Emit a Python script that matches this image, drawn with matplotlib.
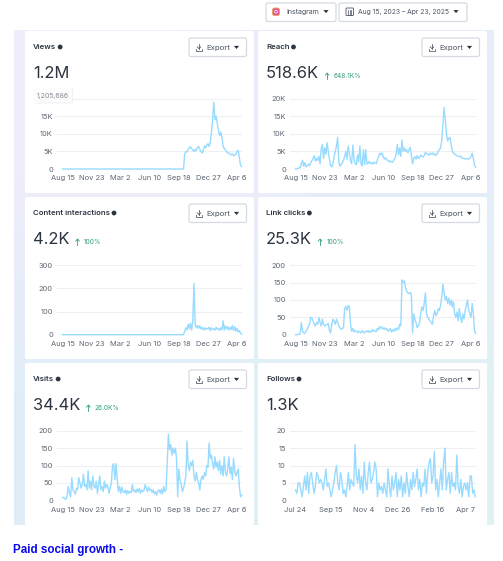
"""Instagram insights dashboard screenshot: six small daily line charts."""

import matplotlib
matplotlib.use("Agg")
import matplotlib.pyplot as plt
import matplotlib.patches as patches
import numpy as np

W, H = 503, 561
INK = "#2b3440"
TICK = "#5d6673"
LINE = "#98dbff"
GRID = "#edeff3"
GREEN = "#2f9e78"
EDGE = "#d5d9e2"

plt.rcParams["font.family"] = ["Inter", "DejaVu Sans"]

# values, one sample every 4 days (follows: every 2 days)
views = [0] * 105 + [
    4200, 5000, 4800, 5600, 6000, 6400, 5800, 5400, 5000, 5600,
    5200, 6200, 6400, 5600, 5000, 4500, 5400, 6600, 6000, 6800,
    7200, 6400, 7600, 10500, 14000, 19000, 14000, 15000, 13000, 11000,
    9500, 10500, 9000, 6500, 5800, 5500, 5000, 4500, 4600, 4200,
    4000, 4300, 3800, 3900, 4200, 5000, 5300, 3200, 1000, 700,
]
reach = [
    0, 0, 100, 400, 300, 1500, 2500, 800, 1800, 600,
    1000, 1400, 900, 1800, 2400, 3000, 3800, 2200, 3000, 2400,
    3600, 1500, 5800, 7000, 3000, 6000, 4200, 7500, 5000, 2800,
    1000, 600, 1500, 3500, 5000, 6500, 9000, 2000, 800, 1200,
    1800, 2500, 3500, 5000, 2800, 6500, 4500, 2500, 1500, 6800,
    3000, 1500, 1200, 4000, 2000, 6500, 1500, 900, 5500, 1200,
    5500, 1500, 1600, 2200, 1500, 1800, 1400, 2000, 1700, 1500,
    2600, 3500, 4500, 4000, 4600, 3500, 2800, 3200, 2600, 2500,
    2000, 2300, 2100, 1900, 2500, 3000, 4200, 7000, 4000, 6000,
    3600, 8300, 5000, 6000, 5000, 5500, 4600, 5500, 6200, 4000,
    1500, 3000, 3500, 2800, 3800, 3000, 3400, 4000, 3600, 3400,
    3800, 4800, 4400, 4200, 3900, 4500, 4200, 4600, 4000, 4300,
    3900, 4200, 5000, 5500, 6000, 8000, 13000, 17500, 14000, 10000,
    8000, 8800, 9000, 7000, 5000, 4500, 4200, 4000, 3800, 3600,
    3500, 3700, 3200, 3000, 3100, 2800, 2900, 3000, 2800, 3100,
    3500, 4500, 3000, 1000, 500,
]
interactions = [0] * 105 + [
    15, 30, 20, 45, 25, 50, 20, 60, 222, 45,
    30, 40, 28, 38, 25, 32, 20, 30, 22, 28,
    25, 32, 18, 30, 22, 26, 20, 32, 24, 28,
    18, 30, 22, 60, 20, 38, 25, 35, 20, 32,
    22, 40, 18, 35, 15, 28, 12, 18, 5, 3,
]
link_clicks = [
    0, 0, 1, 1, 3, 35, 10, 5, 4, 10,
    15, 25, 30, 50, 48, 40, 30, 25, 35, 30,
    50, 35, 25, 45, 30, 25, 28, 30, 32, 12,
    5, 30, 45, 38, 30, 45, 35, 25, 20, 15,
    18, 20, 75, 82, 70, 84, 80, 30, 10, 18,
    8, 12, 10, 6, 10, 8, 5, 12, 7, 5,
    10, 8, 12, 6, 10, 8, 15, 10, 12, 9,
    18, 14, 24, 18, 22, 16, 20, 14, 18, 10,
    12, 18, 8, 14, 10, 18, 12, 20, 15, 30,
    25, 158, 150, 155, 135, 125, 120, 118, 122, 115,
    5, 60, 45, 35, 20, 25, 35, 60, 80, 70,
    90, 120, 60, 50, 45, 40, 35, 30, 55, 70,
    55, 60, 75, 70, 85, 110, 145, 120, 100, 110,
    90, 105, 85, 100, 80, 95, 60, 50, 65, 40,
    75, 50, 35, 60, 45, 70, 85, 100, 70, 60,
    50, 90, 60, 10, 5,
]
visits = [
    8, 8, 5, 3, 15, 40, 20, 10, 65, 30,
    25, 18, 35, 30, 65, 50, 35, 45, 75, 40,
    45, 30, 85, 35, 55, 30, 70, 40, 35, 55,
    20, 45, 70, 30, 40, 25, 55, 35, 45, 40,
    20, 35, 50, 100, 105, 60, 105, 60, 25, 40,
    20, 38, 25, 22, 30, 18, 28, 20, 25, 22,
    45, 25, 30, 22, 32, 24, 35, 20, 30, 25,
    28, 45, 35, 25, 38, 28, 32, 22, 30, 18,
    25, 15, 28, 30, 20, 32, 18, 40, 25, 30,
    110, 190, 145, 160, 130, 150, 135, 150, 120, 10,
    90, 60, 45, 25, 35, 50, 70, 170, 100, 85,
    110, 100, 115, 70, 55, 80, 60, 50, 30, 60,
    70, 60, 80, 70, 100, 95, 165, 120, 130, 105,
    90, 125, 95, 110, 85, 115, 75, 100, 70, 125,
    80, 70, 90, 125, 75, 95, 60, 120, 85, 70,
    80, 90, 40, 10, 15,
]
follows = [
    3, 2, 5, 5, 3, 1, 4, 7, 3, 8,
    2, 7, 8, 5, 2, 4, 8, 7, 5, 6,
    5, 3, 6, 9, 4, 5, 3, 1, 3, 5,
    8, 10, 5, 3, 8, 6, 2, 3, 1, 4,
    8, 3, 6, 5, 4, 16, 7, 5, 9, 3,
    7, 2, 11, 5, 3, 8, 11, 5, 6, 8,
    11, 9, 1, 5, 3, 4, 2, 5, 3, 1,
    9, 4, 1, 7, 3, 5, 8, 1, 6, 3,
    7, 1, 5, 2, 8, 4, 1, 6, 3, 8,
    4, 6, 9, 3, 6, 1, 5, 4, 9, 2,
    8, 11, 12, 5, 7, 14, 3, 6, 1, 5,
    9, 3, 11, 15, 3, 6, 8, 2, 8, 4,
    5, 3, 13, 4, 2, 6, 1, 4, 5, 3,
    5, 1, 7, 7, 2, 3, 1,
]

long_ticks = [0, 100, 200, 300, 400, 500, 600]
long_labels = ["Aug 15", "Nov 23", "Mar 2", "Jun 10", "Sep 18", "Dec 27", "Apr 6"]
follow_ticks = [0, 53, 103, 155, 207, 257]
follow_labels = ["Jul 24", "Sep 15", "Nov 4", "Dec 26", "Feb 16", "Apr 7"]

fig = plt.figure(figsize=(W / 100, H / 100), dpi=100, facecolor="white")

# overlay in pixel coordinates, y going down like the screenshot
bg = fig.add_axes([0, 0, 1, 1])
bg.set_xlim(0, W)
bg.set_ylim(H, 0)
bg.axis("off")


def box(x0, y0, x1, y1, face="white", edge="none", lw=0.0, r=1.5, z=2):
    bg.add_patch(
        patches.FancyBboxPatch(
            (x0, y0), x1 - x0, y1 - y0,
            boxstyle=f"round,pad=0,rounding_size={r}",
            facecolor=face, edgecolor=edge, linewidth=lw, zorder=z,
        )
    )


def caret(x, y, s=3.0, z=5):
    bg.add_patch(
        patches.Polygon(
            [(x - s, y - s * 0.55), (x + s, y - s * 0.55), (x, y + s * 0.65)],
            closed=True, facecolor="#2b3440", edgecolor="none", zorder=z,
        )
    )


def right_edge(t):
    fig.canvas.draw()
    return bg.transData.inverted().transform(t.get_window_extent().get_points())[1, 0]


def export_button(x0, y0):
    box(x0, y0, x0 + 57.5, y0 + 18.5, edge=EDGE, lw=0.9, r=2, z=4)
    ix, iy = x0 + 10, y0 + 9.5
    ico = "#4a5360"
    bg.plot([ix - 3, ix - 3, ix + 3, ix + 3], [iy + 1, iy + 3, iy + 3, iy + 1], color=ico, lw=0.55, zorder=5)
    bg.plot([ix, ix], [iy - 3.5, iy + 1], color=ico, lw=0.55, zorder=5)
    bg.plot([ix - 1.8, ix, ix + 1.8], [iy - 0.7, iy + 1.2, iy - 0.7], color=ico, lw=0.55, zorder=5)
    bg.text(x0 + 29, y0 + 9.5, "Export", fontsize=5.6, color="#4a5360", ha="center", va="center", zorder=5)
    caret(x0 + 47.5, y0 + 9.3, s=2.6)


def card(x0, y0, title, number, delta):
    box(x0, y0, x0 + 229, y0 + 162, z=2)
    tt = bg.text(x0 + 8, y0 + 16, title, fontsize=5.6, fontweight="semibold", color=INK, ha="left", va="center", zorder=5)
    bg.add_patch(patches.Circle((right_edge(tt) + 4, y0 + 16), radius=2.4, facecolor="#2b3440", edgecolor="none", zorder=5))
    t = bg.text(x0 + 8, y0 + 42, number, fontsize=11.9, color=INK, ha="left", va="center", zorder=5)
    if delta:
        right = right_edge(t)
        ax_, ay_ = right + 8, y0 + 45
        bg.plot([ax_, ax_], [ay_ - 3, ay_ + 3.2], color=GREEN, lw=0.6, zorder=5)
        bg.plot([ax_ - 1.8, ax_, ax_ + 1.8], [ay_ - 0.9, ay_ - 3, ay_ - 0.9], color=GREEN, lw=0.6, zorder=5)
        bg.text(right + 14.5, ay_, delta, fontsize=4.7, color=GREEN, ha="left", va="center", zorder=5)


def chart(left, right, y_top, y_zero, values, step, span, yticks, ylabels, xticks, xlabels, pad=5.5):
    ax = fig.add_axes([left / W, 1 - y_zero / H, (right - left) / W, (y_zero - y_top) / H])
    ax.patch.set_alpha(0)
    scale = (right - left - pad) / span
    ax.set_xlim(-pad / scale, span)
    ax.set_ylim(0, yticks[-1])
    x = np.arange(len(values)) * step
    ax.plot(x, values, color=LINE, lw=1.0, solid_joinstyle="round", clip_on=False, zorder=3)
    ax.set_yticks(yticks, ylabels)
    ax.set_xticks(xticks, xlabels)
    ax.tick_params(length=0, labelsize=5.4, labelcolor=TICK)
    ax.tick_params(axis="x", pad=4.5)
    ax.tick_params(axis="y", pad=3)
    ax.grid(axis="y", color=GRID, lw=0.8)
    ax.set_axisbelow(True)
    for s in ax.spines.values():
        s.set_visible(False)
    return ax


# pale gradient behind the cards
grad = np.array(
    [[[0.94, 0.93, 0.98], [0.90, 0.93, 0.98]],
     [[0.88, 0.93, 0.97], [0.88, 0.95, 0.96]]]
)
bg.imshow(grad, extent=(14, 494, 525, 30), interpolation="bilinear", aspect="auto", zorder=1)
bg.set_xlim(0, W)
bg.set_ylim(H, 0)

# top controls
box(266, 3, 336, 21.5, edge=EDGE, lw=0.9, r=2, z=4)
box(339, 3, 467, 21.5, edge=EDGE, lw=0.9, r=2, z=4)
box(272.5, 8, 279.5, 15.5, face="#e0559a", edge="#f0a050", lw=0.6, r=2, z=5)
bg.add_patch(patches.Circle((276, 11.7), radius=1.4, facecolor="none", edgecolor="white", linewidth=0.5, zorder=6))
bg.text(286, 11.7, "Instagram", fontsize=5.1, color="#4a5360", ha="left", va="center", zorder=5)
caret(326, 11.5, s=2.6)
box(346, 8, 353.5, 15.5, face="white", edge="#4a5360", lw=0.6, r=0.8, z=5)
for xv in [348.3, 349.8, 351.3]:
    bg.plot([xv, xv], [10, 14.5], color="#4a5360", lw=0.5, zorder=6)
bg.text(358, 11.7, "Aug 15, 2023 – Apr 23, 2025", fontsize=4.85, color="#4a5360", ha="left", va="center", zorder=5)
caret(456, 11.5, s=2.6)

# cards and buttons
LEFT_X, RIGHT_X = 25, 258
card(LEFT_X, 31, "Views", "1.2M", None)
card(RIGHT_X, 31, "Reach", "518.6K", "648.1K%")
card(LEFT_X, 197, "Content interactions", "4.2K", "100%")
card(RIGHT_X, 197, "Link clicks", "25.3K", "100%")
card(LEFT_X, 363, "Visits", "34.4K", "26.0K%")
card(RIGHT_X, 363, "Follows", "1.3K", None)
for bx in (189, 422):
    for by in (38, 204, 370):
        export_button(bx, by)

# charts
LX0, LX1, RX0, RX1 = 57, 242, 290, 476
k_ticks = [0, 5000, 10000, 15000, 20000]
k_labels = ["0", "5K", "10K", "15K", "20K"]
chart(LX0, LX1, 98.7, 169, views, 4, 617, k_ticks, k_labels, long_ticks, long_labels)
chart(RX0, RX1, 98.7, 169, reach, 4, 617, k_ticks, k_labels, long_ticks, long_labels)
chart(LX0, LX1, 265.3, 334.7, interactions, 4, 617, [0, 100, 200, 300], ["0", "100", "200", "300"], long_ticks, long_labels)
chart(RX0, RX1, 265.3, 334.7, link_clicks, 4, 617, [0, 50, 100, 150, 200], ["0", "50", "100", "150", "200"], long_ticks, long_labels)
chart(LX0, LX1, 430.7, 500.3, visits, 4, 617, [0, 50, 100, 150, 200], ["0", "50", "100", "150", "200"], long_ticks, long_labels)
chart(RX0, RX1, 430.7, 500.3, follows, 2, 273, [0, 5, 10, 15, 20], ["0", "5", "10", "15", "20"], follow_ticks, follow_labels)

# tooltip left hanging over the views chart, drawn in its own top layer
top = fig.add_axes([0, 0, 1, 1], zorder=10)
top.set_xlim(0, W)
top.set_ylim(H, 0)
top.axis("off")
top.add_patch(patches.FancyBboxPatch((34, 87.5), 39, 16, boxstyle="round,pad=0,rounding_size=1.5",
                                     facecolor="#e6e8ec", edgecolor="none", alpha=0.6))
top.add_patch(patches.FancyBboxPatch((33, 86.5), 39, 16, boxstyle="round,pad=0,rounding_size=1.5",
                                     facecolor="white", edgecolor="none", alpha=0.85))
top.text(52.5, 95.5, "1,205,686", fontsize=5.0, color="#8a8f98", ha="center", va="center")

# caption under the dashboard
bg.text(13, 549.5, "Paid social growth -", fontsize=8.4, fontweight="bold", color="#0a0ae6",
        family="Liberation Sans", ha="left", va="center", zorder=5)

fig.savefig("out.png", dpi=100)
